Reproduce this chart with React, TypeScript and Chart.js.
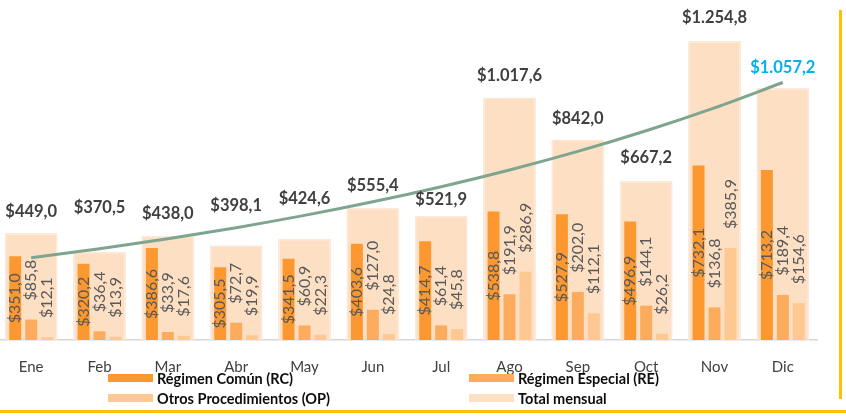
import React, { useEffect, useRef } from "react";
import { Chart, registerables } from "chart.js";

Chart.register(...registerables);

// ---- Data ----
const months = ["Ene", "Feb", "Mar", "Abr", "May", "Jun", "Jul", "Ago", "Sep", "Oct", "Nov", "Dic"];
const regimenComun = [351.0, 320.2, 386.6, 305.5, 341.5, 403.6, 414.7, 538.8, 527.9, 496.9, 732.1, 713.2];
const regimenEspecial = [85.8, 36.4, 33.9, 72.7, 60.9, 127.0, 61.4, 191.9, 202.0, 144.1, 136.8, 189.4];
const otrosProcedimientos = [12.1, 13.9, 17.6, 19.9, 22.3, 24.8, 45.8, 286.9, 112.1, 26.2, 385.9, 154.6];
const totalMensual = [449.0, 370.5, 438.0, 398.1, 424.6, 555.4, 521.9, 1017.6, 842.0, 667.2, 1254.8, 1057.2];
const seriesNames = ["Régimen Común (RC)", "Régimen Especial (RE)", "Otros Procedimientos (OP)", "Total mensual"];

// Exponential trendline (least-squares fit of ln(total) over month index), as Excel does
function expTrend(values: number[]): number[] {
  const n = values.length;
  const xs = values.map((_, i) => i + 1);
  const ls = values.map((v) => Math.log(v));
  const mx = xs.reduce((a, b) => a + b, 0) / n;
  const ml = ls.reduce((a, b) => a + b, 0) / n;
  let sxy = 0, sxx = 0;
  for (let i = 0; i < n; i++) {
    sxy += (xs[i] - mx) * (ls[i] - ml);
    sxx += (xs[i] - mx) * (xs[i] - mx);
  }
  const b = sxy / sxx;
  const a = ml - b * mx;
  return xs.map((x) => Math.exp(a + b * x));
}
const trendValues = expTrend(totalMensual);

// ---- Styles ----
const COLORS = {
  rc: "#FC982F",
  re: "#FDAB5D",
  op: "#FEC892",
  total: "#FDDFC4",
  totalBorder: "#FCE9DA",
  trend: "#7FA58E",
  label: "#595959",
  totalLabel: "#404040",
  highlight: "#00B0F0",
  gold: "#FFC000",
};
const FONT = "Lato, 'Open Sans', sans-serif";
// manual lift (px) of each total label above its bar top, as placed in the original
const totalLabelLift = [21, 44, 22, 39, 40, 22, 16, 22, 21, 23, 23, 20];
const highlightIndex = 11;

function fmt(v: number): string {
  const [ip, dp] = v.toFixed(1).split(".");
  const withDots = ip.replace(/\B(?=(\d{3})+(?!\d))/g, ".");
  return "$" + withDots + "," + dp;
}

const labelPlugin = {
  id: "valueLabels",
  afterDatasetsDraw(chart: any) {
    const ctx = chart.ctx as CanvasRenderingContext2D;
    const small = [regimenComun, regimenEspecial, otrosProcedimientos];
    ctx.save();
    small.forEach((vals, di) => {
      const meta = chart.getDatasetMeta(di);
      meta.data.forEach((bar: any, i: number) => {
        const { x, y, base } = bar.getProps(["x", "y", "base"], true);
        ctx.save();
        ctx.translate(x, di === 0 ? (y + base) / 2 : y - 19);
        ctx.rotate(-Math.PI / 2);
        ctx.font = `16px ${FONT}`;
        ctx.fillStyle = COLORS.label;
        ctx.textBaseline = "middle";
        ctx.textAlign = di === 0 ? "center" : "left";
        ctx.fillText(fmt(vals[i]), 0, 0);
        ctx.restore();
      });
    });
    const tmeta = chart.getDatasetMeta(3);
    tmeta.data.forEach((bar: any, i: number) => {
      const { x, y } = bar.getProps(["x", "y"], true);
      ctx.font = `bold 16.5px ${FONT}`;
      ctx.fillStyle = i === highlightIndex ? COLORS.highlight : COLORS.totalLabel;
      ctx.textAlign = "center";
      ctx.textBaseline = "middle";
      ctx.fillText(fmt(totalMensual[i]), x, y - totalLabelLift[i]);
    });
    ctx.restore();
  },
};

export default function App() {
  const ref = useRef<HTMLCanvasElement | null>(null);

  useEffect(() => {
    document.body.style.margin = "0";
    const chart = new Chart(ref.current as HTMLCanvasElement, {
      type: "bar",
      data: {
        labels: months,
        datasets: [
          { type: "bar", label: seriesNames[0], data: regimenComun, backgroundColor: COLORS.rc, order: 2, barPercentage: 0.75, categoryPercentage: 0.7 },
          { type: "bar", label: seriesNames[1], data: regimenEspecial, backgroundColor: COLORS.re, order: 2, barPercentage: 0.75, categoryPercentage: 0.7 },
          { type: "bar", label: seriesNames[2], data: otrosProcedimientos, backgroundColor: COLORS.op, order: 2, barPercentage: 0.75, categoryPercentage: 0.7 },
          { type: "bar", label: seriesNames[3], data: totalMensual, backgroundColor: COLORS.total, borderColor: COLORS.totalBorder, borderWidth: 1.5, grouped: false, order: 10, barPercentage: 0.775, categoryPercentage: 1 } as any,
          { type: "line", label: "Tendencia", data: trendValues, borderColor: COLORS.trend, borderWidth: 3, pointRadius: 0, cubicInterpolationMode: "monotone", order: 0 } as any,
        ],
      },
      options: {
        responsive: false,
        animation: false,
        devicePixelRatio: 1,
        layout: { padding: { left: 0, top: 0, bottom: 0, right: 29 }, autoPadding: false },
        plugins: { legend: { display: false }, tooltip: { enabled: false } },
        scales: {
          x: {
            type: "category",
            offset: true,
            grid: { display: false, drawTicks: false },
            border: { display: true, color: "#D6D6D6", width: 1.5 },
            ticks: { color: "#404040", font: { family: FONT, size: 15 }, padding: 18, maxRotation: 0, autoSkip: false },
          },
          y: { display: false, min: 0, max: 1427 },
        },
      },
      plugins: [labelPlugin],
    });
    return () => chart.destroy();
  }, []);

  const legendItem = (color: string, text: string, left: number, top: number) => (
    <div style={{ position: "absolute", left, top, display: "flex", alignItems: "center", height: 16 }}>
      <div style={{ width: 45, height: 8, background: color, marginRight: 4 }} />
      <span style={{ fontFamily: FONT, fontWeight: 700, fontSize: 14.5, color: "#0D0D0D", whiteSpace: "nowrap" }}>{text}</span>
    </div>
  );

  return (
    <div style={{ position: "fixed", left: 0, top: 0, width: 846, height: 417, background: "#fff", overflow: "hidden" }}>
      <canvas ref={ref} width={849} height={394} style={{ position: "absolute", left: -3, top: 0, width: 849, height: 394 }} />
      {legendItem(COLORS.rc, seriesNames[0], 108, 370)}
      {legendItem(COLORS.re, seriesNames[1], 469, 370)}
      {legendItem(COLORS.op, seriesNames[2], 108, 390)}
      {legendItem(COLORS.total, seriesNames[3], 469, 390)}
      <div style={{ position: "absolute", left: 839, top: 10, width: 3, height: 389, background: COLORS.gold }} />
      <div style={{ position: "absolute", left: 0, top: 410, width: 846, height: 3, background: COLORS.gold }} />
    </div>
  );
}
